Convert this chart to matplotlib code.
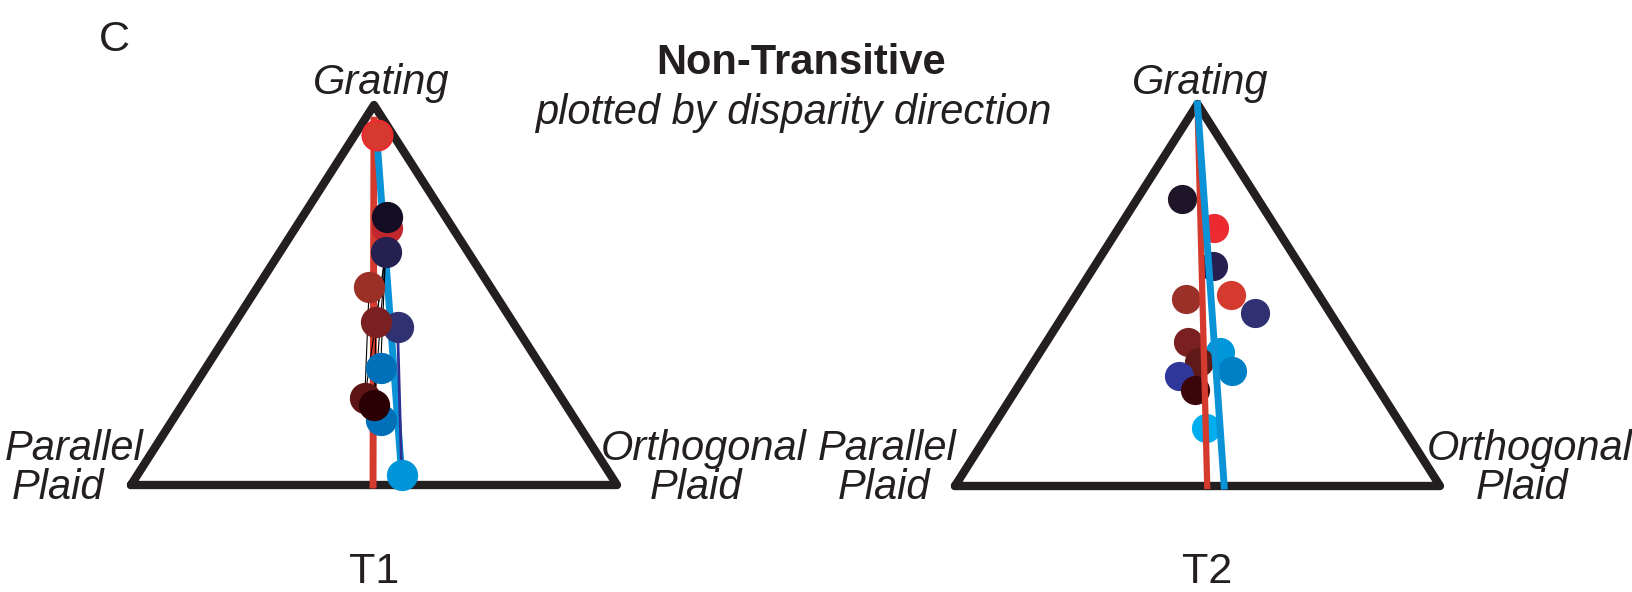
import numpy as np
import matplotlib.pyplot as plt

plt.rcParams['font.family'] = ['Liberation Sans', 'DejaVu Sans']

INK = '#231f20'
W, H = 1632, 592

# ternary coordinates: share of grating and orthogonal plaid (parallel = rest)
t1_grating = [0.921, 0.676, 0.706, 0.612, 0.520, 0.415, 0.430, 0.307, 0.171, 0.228, 0.211, 0.026]
t1_orth = [0.045, 0.188, 0.174, 0.218, 0.230, 0.341, 0.289, 0.360, 0.428, 0.367, 0.395, 0.544]
t1_colors = ['#d63a2f', '#c1272d', '#140c22', '#262050', '#9a3026', '#2f3171',
             '#7b2022', '#0071b9', '#0071b9', '#5c1414', '#2b0003', '#0095d9']
t1_links = [(3, 6), (3, 9), (3, 10), (6, 10), (4, 9), (3, 7)]

t2_grating = [0.751, 0.676, 0.577, 0.490, 0.500, 0.452, 0.376, 0.352, 0.325, 0.302, 0.289, 0.251, 0.151]
t2_orth = [0.092, 0.195, 0.244, 0.231, 0.319, 0.393, 0.293, 0.370, 0.341, 0.420, 0.317, 0.369, 0.441]
t2_colors = ['#1f1529', '#ec2a30', '#261f50', '#9a3027', '#d43a2d', '#2f3173', '#7a2022',
             '#0096da', '#5e1918', '#0080c4', '#2f389a', '#3c050a', '#00aeef']

# fitted trend lines (grating, orthogonal) at top and bottom ends
t1_red_fit = ([0.96, 0.0], [0.02, 0.498])
t1_blue_fit = ([0.921, 0.026], [0.045, 0.544])
t2_red_fit = ([1.0, 0.0], [0.0, 0.520])
t2_blue_fit = ([1.0, 0.0], [0.0, 0.555])

RED = '#d43a2e'
BLUE = '#0a93d6'
SQ3 = np.sqrt(3) / 2


def to_xy(g, o):
    g = np.asarray(g)
    o = np.asarray(o)
    return o + g / 2, g * SQ3


def triangle_axes(rect):
    ax = fig.add_axes(rect)
    ax.set_xlim(0, 1)
    ax.set_ylim(0, SQ3)
    ax.axis('off')
    ax.plot([0, 1, 0.5, 0], [0, 0, SQ3, 0], color=INK, lw=6,
            solid_joinstyle='round', solid_capstyle='round', clip_on=False, zorder=1)
    return ax


fig = plt.figure(figsize=(W / 100, H / 100), dpi=100)

# T1 panel: points drawn over the fit lines
ax1 = triangle_axes([131 / W, 1 - 485 / H, 486 / W, 380 / H])
x, y = to_xy(*t1_red_fit)
ax1.plot(x, y, color=RED, lw=5, clip_on=False, zorder=2)
x, y = to_xy(*t1_blue_fit)
ax1.plot(x, y, color=BLUE, lw=5, clip_on=False, zorder=2)
px, py = to_xy(t1_grating, t1_orth)
for a, b in t1_links:
    ax1.plot([px[a], px[b]], [py[a], py[b]], color='black', lw=0.8, clip_on=False, zorder=3)
ax1.plot([px[5], px[11]], [py[5], py[11]], color='#2e3192', lw=2, clip_on=False, zorder=2.5)
for xi, yi, c in zip(px, py, t1_colors):
    ax1.plot(xi, yi, 'o', ms=21.5, color=c, mec=c, clip_on=False, zorder=4)
# brighter rim on the top point
ax1.plot(px[0], py[0], 'o', ms=21.5, mfc='#d63a2f', mec='#ec2a2e', mew=1.5, clip_on=False, zorder=4)

# T2 panel: fit lines drawn over the points
ax2 = triangle_axes([955 / W, 1 - 486 / H, 485 / W, 382 / H])
px, py = to_xy(t2_grating, t2_orth)
for xi, yi, c in zip(px, py, t2_colors):
    ax2.plot(xi, yi, 'o', ms=20, color=c, mec=c, clip_on=False, zorder=2)
x, y = to_xy(*t2_red_fit)
ax2.plot(x, y, color=RED, lw=4.5, clip_on=False, zorder=3)
x, y = to_xy(*t2_blue_fit)
ax2.plot(x, y, color=BLUE, lw=5, clip_on=False, zorder=3)


def label(x, y, s, **kw):
    kw.setdefault('size', 30)
    kw.setdefault('ha', 'center')
    kw.setdefault('va', 'baseline')
    fig.text(x / W, 1 - y / H, s, color=INK, **kw)


label(114, 51, 'C', size=31)
label(801, 74, 'Non-Transitive', weight='bold')
label(793, 124, 'plotted by disparity direction', style='italic')

label(381, 94, 'Grating', style='italic')
label(74, 460, 'Parallel', style='italic')
label(58, 499, 'Plaid', style='italic')
label(704, 460, 'Orthogonal', style='italic')
label(696, 499, 'Plaid', style='italic')
label(374, 583, 'T1', size=31)

label(1200, 94, 'Grating', style='italic')
label(887, 460, 'Parallel', style='italic')
label(884, 499, 'Plaid', style='italic')
label(1530, 460, 'Orthogonal', style='italic')
label(1522, 499, 'Plaid', style='italic')
label(1207, 583, 'T2', size=31)

fig.savefig('out.png', dpi=100)
